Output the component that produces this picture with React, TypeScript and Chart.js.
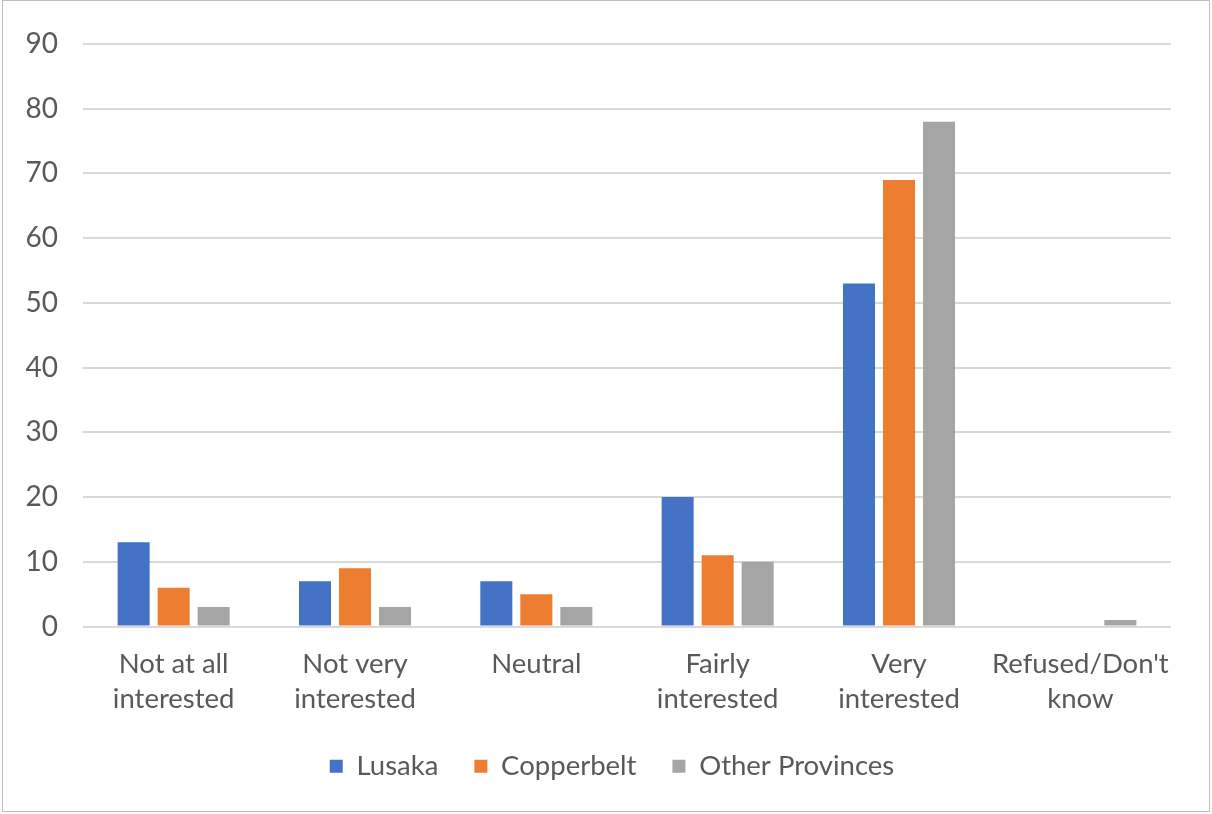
import React, { useEffect, useRef } from "react";
import { Chart, registerables } from "chart.js";

Chart.register(...registerables);

// Interest level by region (percent of respondents)
const categories: (string | string[])[] = [
  ["Not at all", "interested"],
  ["Not very", "interested"],
  "Neutral",
  ["Fairly", "interested"],
  ["Very", "interested"],
  ["Refused/Don't", "know"],
];

const lusaka = [13, 7, 7, 20, 53, 0];
const copperbelt = [6, 9, 5, 11, 69, 0];
const otherProvinces = [3, 3, 3, 10, 78, 1];

const seriesNames = ["Lusaka", "Copperbelt", "Other Provinces"];
const seriesColors = ["#4472C4", "#ED7D31", "#A5A5A5"];

const yMin = 0;
const yMax = 90;
const yStep = 10;

const FONT = "Lato, 'Open Sans', sans-serif";
const TEXT = "#595959";
const GRID = "#d9d9d9";

// Centre the legend on the whole canvas rather than on the padded layout box
const legendShift = {
  id: "legendShift",
  afterLayout(chart: any) {
    const lg = chart.legend;
    if (!lg) return;
    const dx = (chart.width - (lg.left + lg.right)) / 2 + 6;
    lg.left += dx;
    lg.right += dx;
  },
};

export default function App() {
  const canvasRef = useRef<HTMLCanvasElement | null>(null);

  useEffect(() => {
    document.body.style.margin = "0";
    document.body.style.background = "#ffffff";
    const canvas = canvasRef.current;
    if (!canvas) return;

    const chart = new Chart(canvas, {
      type: "bar",
      data: {
        labels: categories,
        datasets: [lusaka, copperbelt, otherProvinces].map((values, i) => ({
          label: seriesNames[i],
          data: values,
          backgroundColor: seriesColors[i],
          borderWidth: 0,
          categoryPercentage: 0.662,
          barPercentage: 0.8,
        })),
      },
      options: {
        animation: false,
        responsive: false,
        maintainAspectRatio: false,
        layout: {
          padding: { left: 0, right: 41, top: 44, bottom: 24 },
        },
        plugins: {
          tooltip: { enabled: false },
          legend: {
            position: "bottom",
            labels: {
              boxWidth: 13,
              boxHeight: 13,
              padding: 36,
              color: TEXT,
              font: { family: FONT, size: 27.5 },
            },
          },
        },
        scales: {
          x: {
            grid: { display: false, drawTicks: false },
            border: { display: false },
            ticks: {
              color: TEXT,
              padding: 20,
              maxRotation: 0,
              autoSkip: false,
              font: { family: FONT, size: 27.5, lineHeight: 1.27 },
            },
            afterFit: (scale: any) => {
              scale.height = 90;
            },
          },
          y: {
            min: yMin,
            max: yMax,
            grid: { color: GRID, lineWidth: 2, drawTicks: false },
            border: { display: false },
            ticks: {
              stepSize: yStep,
              color: TEXT,
              padding: 25,
              font: { family: FONT, size: 28 },
            },
            afterFit: (scale: any) => {
              scale.width = 83;
            },
          },
        },
      },
      plugins: [legendShift],
    });

    return () => chart.destroy();
  }, []);

  return (
    <div style={{ position: "fixed", left: 0, top: 0, width: 1212, height: 814, background: "#fff" }}>
      <canvas ref={canvasRef} width={1212} height={814} style={{ display: "block" }} />
      <div
        style={{
          position: "absolute",
          left: 2,
          top: 0,
          width: 1208,
          height: 812,
          boxSizing: "border-box",
          border: "1px solid #bfbfbf",
          pointerEvents: "none",
        }}
      />
    </div>
  );
}
